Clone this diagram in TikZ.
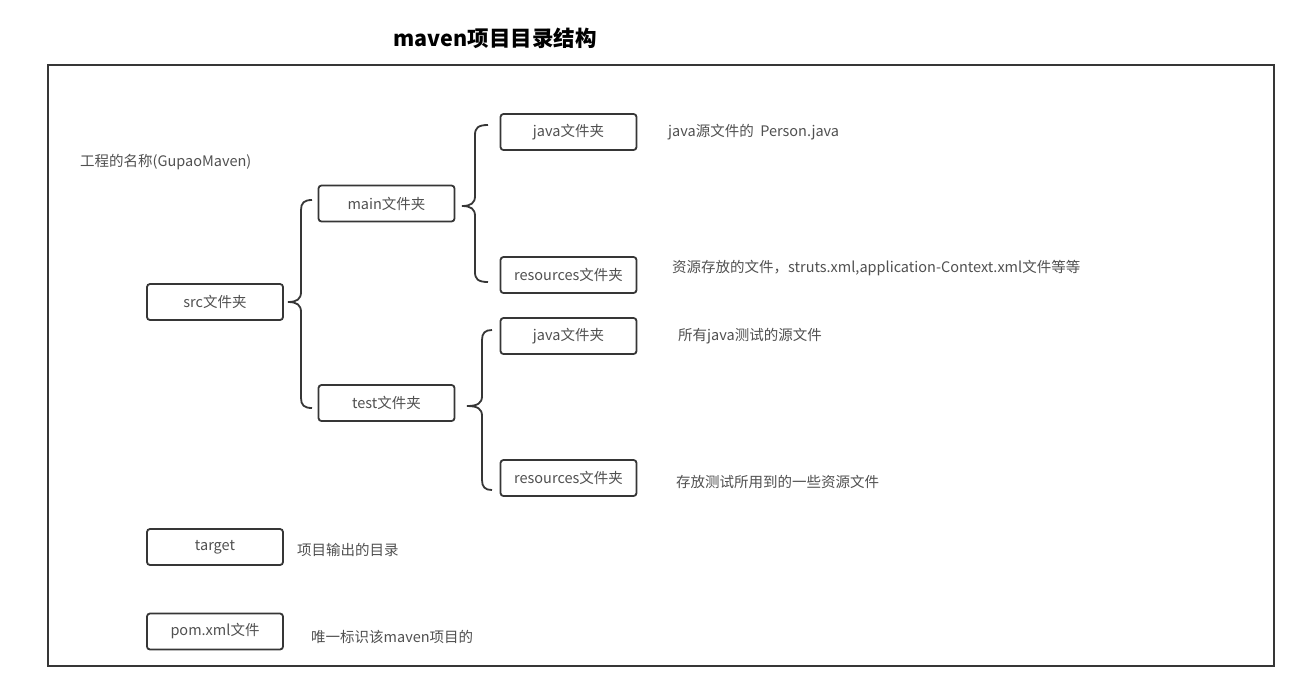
\documentclass[tikz,border=0pt]{standalone}
\usepackage{fontspec}
\setmainfont{Noto Sans CJK SC}
\usetikzlibrary{calc}
\definecolor{linec}{HTML}{363636}
\definecolor{textc}{HTML}{505050}
\tikzset{
  box/.style={draw=linec, line width=1.8pt, rounded corners=3pt, minimum width=136pt, minimum height=36pt, inner sep=0pt, text=textc, font=\fontsize{14.5}{16}\selectfont},
  desc/.style={anchor=west, inner sep=0pt, text=textc, font=\fontsize{14.5}{16}\selectfont},
  brace/.style={draw=linec, line width=1.8pt},
}
\begin{document}
\begin{tikzpicture}[x=1pt,y=-1pt]
\useasboundingbox (0,0) rectangle (1316,694);
\node (title) at (495,38) {\fontsize{21.5}{24}\selectfont\bfseries maven项目目录结构};
\draw[draw=linec, line width=1.8pt] (48,65) rectangle (1274,666);

\node[desc] (name) at (80,162) {工程的名称(GupaoMaven)};

\node[box] (src) at (215,302) {src文件夹};
\node[box] (main) at (386.5,203.5) {main文件夹};
\node[box] (test) at (386.5,403) {test文件夹};
\node[box] (mjava) at (568.5,132) {java文件夹};
\node[box] (mres) at (568.5,275) {resources文件夹};
\node[box] (tjava) at (568.5,336) {java文件夹};
\node[box] (tres) at (568.5,478) {resources文件夹};
\node[box] (target) at (215,547) {target};
\node[box] (pom) at (215,631.5) {pom.xml文件};

\node[desc] (d1) at (668,132) {java源文件的\ \ Person.java};
\node[desc] (d2) at (672,268) {资源存放的文件，struts.xml,application-Context.xml文件等等};
\node[desc] (d3) at (678,336) {所有java测试的源文件};
\node[desc] (d4) at (676,482) {存放测试所用到的一些资源文件};
\node[desc] (d5) at (297,550) {项目输出的目录};
\node[desc] (d6) at (311,637) {唯一标识该maven项目的};

% brace src -> main/test
\draw[brace] (312,200) .. controls (304,200) and (301,203) .. (301,210) -- (301,292)
  .. controls (301,299) and (297,302) .. (288,302)
  .. controls (297,302) and (301,305) .. (301,312) -- (301,398)
  .. controls (301,405) and (304,408) .. (312,408);
% brace main -> java/resources
\draw[brace] (488,125) .. controls (478,125) and (475,128) .. (475,135) -- (475,196)
  .. controls (475,203) and (471,206) .. (462,206)
  .. controls (471,206) and (475,209) .. (475,216) -- (475,272)
  .. controls (475,279) and (478,282) .. (488,282);
% brace test -> java/resources
\draw[brace] (492,330) .. controls (485,330) and (482,333) .. (482,340) -- (482,396)
  .. controls (482,403) and (478,406) .. (467,406)
  .. controls (478,406) and (482,409) .. (482,416) -- (482,480)
  .. controls (482,487) and (485,490) .. (492,490);
\end{tikzpicture}
\end{document}
